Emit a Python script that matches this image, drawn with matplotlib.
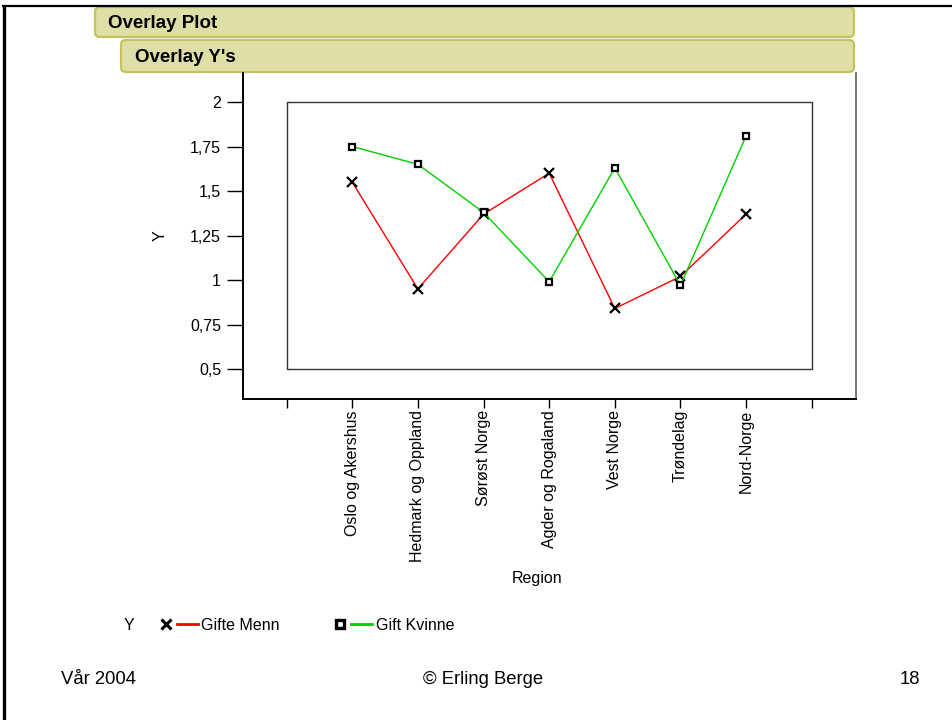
import matplotlib
matplotlib.use("Agg")
import matplotlib.pyplot as plt
from matplotlib.lines import Line2D
from matplotlib.patches import FancyBboxPatch, Rectangle
from matplotlib.legend_handler import HandlerTuple

# ============================== data =========================================

regions = ["Oslo og Akershus", "Hedmark og Oppland", "Sørøst Norge",
           "Agder og Rogaland", "Vest Norge", "Trøndelag", "Nord-Norge"]
gifte_menn = [1.55, 0.95, 1.37, 1.60, 0.84, 1.02, 1.37]
gift_kvinne = [1.75, 1.65, 1.38, 0.99, 1.63, 0.97, 1.81]
y_ticks = [0.5, 0.75, 1.0, 1.25, 1.5, 1.75, 2.0]
y_tick_labels = ["0,5", "0,75", "1", "1,25", "1,5", "1,75", "2"]

# ============================== layout =======================================

W, H = 952, 720
FS = 11.5

plt.rcParams['font.family'] = ['Liberation Sans', 'DejaVu Sans']


def px_rect(x0, y0, x1, y1):
    # pixel box (top-left origin) -> figure fraction rect
    return [x0 / W, 1 - y1 / H, (x1 - x0) / W, (y1 - y0) / H]


def main():
    fig = plt.figure(figsize=(W / 100, H / 100), dpi=100)

    # slide layer, drawn in pixel coordinates
    bg = fig.add_axes([0, 0, 1, 1])
    bg.set_xlim(0, W)
    bg.set_ylim(H, 0)
    bg.axis('off')

    bg.plot([3.5, 3.5], [5, H], color='black', lw=2.4, solid_capstyle='butt')
    bg.plot([2, W], [6, 6], color='black', lw=1.6, solid_capstyle='butt')

    for (x0, y0, w, h, title, tx) in [(95, 7, 759, 30, "Overlay Plot", 108),
                                      (121, 40, 733, 32, "Overlay Y's", 135)]:
        bg.add_patch(FancyBboxPatch((x0, y0), w, h,
                                    boxstyle='round,pad=0,rounding_size=5',
                                    fc='#dfdea6', ec='#c4c35a', lw=1.6))
        bg.text(tx, y0 + h / 2 + 6, title, fontsize=13.5, fontweight='bold',
                ha='left', va='baseline')

    bg.text(61, 684, "Vår 2004", fontsize=13.3, ha='left', va='baseline')
    bg.text(483, 684, "© Erling Berge", fontsize=13.3, ha='center', va='baseline')
    bg.text(920, 684, "18", fontsize=13.3, ha='right', va='baseline')

    # plot area
    ax = fig.add_axes(px_rect(243, 73, 856, 399))
    ax.patch.set_alpha(0)
    ax.set_xlim(-1.664, 7.674)
    ax.set_ylim(0.3315, 2.163)

    ax.spines['top'].set_visible(False)
    ax.spines['left'].set_linewidth(1.4)
    ax.spines['bottom'].set_linewidth(1.4)
    ax.spines['right'].set_linewidth(1.4)
    ax.spines['right'].set_color('#777777')

    ax.add_patch(Rectangle((-1, 0.5), len(regions) + 1, 1.5, fill=False,
                           ec='#333333', lw=1.0))

    xs = list(range(len(regions)))
    ax.plot(xs, gifte_menn, color='#ff0000', lw=1.0, marker='x', ms=7,
            mec='black', mew=1.6, zorder=3)
    ax.plot(xs, gift_kvinne, color='#00d000', lw=1.0, marker='s', ms=5,
            mec='black', mfc='white', mew=1.6, zorder=3)

    ax.set_xticks(range(-1, len(regions) + 1))
    ax.set_xticklabels([''] + regions + [''], fontsize=FS)
    ax.set_yticks(y_ticks)
    ax.set_yticklabels(y_tick_labels, fontsize=FS)
    ax.tick_params(axis='x', length=6.5, width=1, pad=1.5, labelrotation=90)
    ax.tick_params(axis='y', length=11.5, width=1, pad=4.3)

    fig.text(537 / W, 1 - 578 / H, "Region", fontsize=FS, ha='center', va='center')
    fig.text(160 / W, 1 - 236 / H, "Y", fontsize=FS, rotation=90,
             ha='center', va='center')

    # legend: marker then line, laid out in one row
    h_men = (Line2D([], [], ls='none', marker='x', ms=7, mec='black', mew=2.2),
             Line2D([], [], color='#ff0000', lw=2))
    h_women = (Line2D([], [], ls='none', marker='s', ms=6, mec='black',
                      mfc='white', mew=2.4),
               Line2D([], [], color='#00d000', lw=2))
    fig.text(129 / W, 1 - 625 / H, "Y", fontsize=FS, ha='center', va='center')
    fig.legend([h_men, h_women], ["Gifte Menn", "Gift Kvinne"],
               handler_map={tuple: HandlerTuple(ndivide=None, pad=0)},
               loc='center left', bbox_to_anchor=(155 / W, 1 - 625 / H),
               ncol=2, frameon=False, fontsize=FS, borderpad=0,
               borderaxespad=0, handlelength=2.7, handletextpad=0.2,
               columnspacing=3.1)

    fig.savefig("out.png", dpi=100)


if __name__ == '__main__':
    main()
